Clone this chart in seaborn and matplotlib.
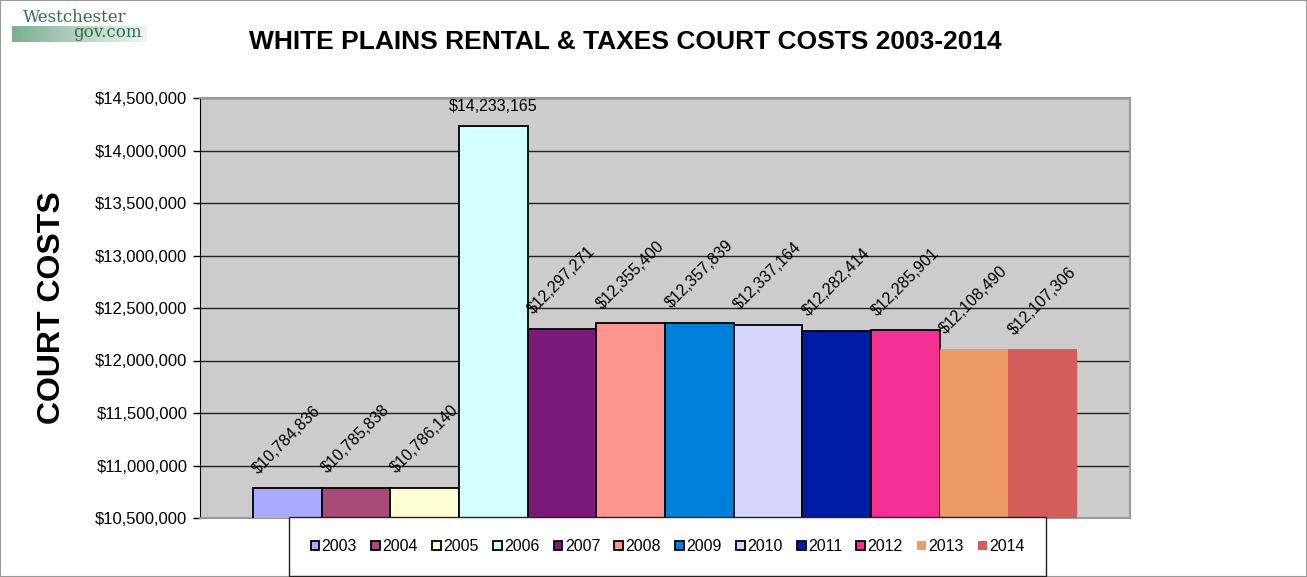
import numpy as np
import matplotlib
matplotlib.use("Agg")
import matplotlib.pyplot as plt
import seaborn as sns
from matplotlib.patches import Patch, Rectangle
from matplotlib.ticker import FuncFormatter, MultipleLocator

years = ['2003', '2004', '2005', '2006', '2007', '2008',
         '2009', '2010', '2011', '2012', '2013', '2014']
costs = [10784836, 10785838, 10786140, 14233165, 12297271, 12355400,
         12357839, 12337164, 12282414, 12285901, 12108490, 12107306]
colors = ['#aaaaff', '#a84b78', '#ffffd4', '#d4ffff', '#7b1a78', '#fe958f',
          '#0080d8', '#d6d6fc', '#001ca4', '#f62f95', '#ee9a66', '#d45c5a']

sns.set_style("white")
plt.rcParams['font.family'] = ['Liberation Sans', 'DejaVu Sans']
plt.rcParams['text.color'] = 'black'
plt.rcParams['axes.labelcolor'] = 'black'
plt.rcParams['ytick.color'] = 'black'

fig = plt.figure(figsize=(13.07, 5.77), dpi=100)
ax = fig.add_axes([200 / 1307, 1 - 518 / 577, 930 / 1307, 420 / 577])
ax.set_facecolor('#cccccc')

sns.barplot(x=years, y=costs, hue=years, palette=colors, width=1.0,
            saturation=1, legend=False, ax=ax, zorder=3)

# bars up to 2012 have black outlines, the last two do not
for i, bar in enumerate(ax.patches):
    if i < 10:
        bar.set_edgecolor('black')
        bar.set_linewidth(1.3)
    else:
        bar.set_edgecolor('none')

ax.set_ylim(10500000, 14500000)
ax.set_xlim(-1.27, 12.27)
ax.yaxis.set_major_locator(MultipleLocator(500000))
ax.yaxis.set_major_formatter(FuncFormatter(lambda v, p: f"${v:,.0f}"))
ax.yaxis.grid(True, color='#222222', linewidth=1)
ax.set_axisbelow(True)
ax.tick_params(axis='y', left=True, direction='out', length=5, width=1,
               color='black', labelsize=12, pad=4)
ax.set_xticks([])
ax.set_xlabel('')
ax.set_ylabel('COURT COSTS', fontsize=23, fontweight='bold', labelpad=20)
for side in ['top', 'right', 'bottom']:
    ax.spines[side].set_color('#999999')
    ax.spines[side].set_linewidth(1.5)
ax.spines['left'].set_color('black')

# value labels
for i, v in enumerate(costs):
    if years[i] == '2006':
        ax.annotate(f"${v:,}", xy=(i, v), xytext=(0, 14), textcoords='offset points',
                    ha='center', va='center', fontsize=11.5)
    else:
        ax.annotate(f"${v:,}", xy=(i, v), xytext=(0, 35), textcoords='offset points',
                    ha='center', va='center', fontsize=11.5, rotation=45,
                    rotation_mode='anchor')

fig.text(625 / 1307, 1 - 42 / 577, 'WHITE PLAINS RENTAL & TAXES COURT COSTS 2003-2014',
         ha='center', va='center', fontsize=19, fontweight='bold')

handles = [Patch(facecolor=c, edgecolor='black' if i < 10 else 'none', linewidth=1.3)
           for i, c in enumerate(colors)]
leg = fig.legend(handles, years, ncol=12, loc='center',
                 bbox_to_anchor=(289 / 1307, 2 / 577, 757 / 1307, 57 / 577),
                 mode='expand', borderaxespad=0, fontsize=11.5,
                 handlelength=0.55, handleheight=0.55, handletextpad=0.15,
                 borderpad=1.35, fancybox=False, framealpha=1)
leg.get_frame().set_edgecolor('#222222')
leg.get_frame().set_linewidth(1)

# logo in the corner
logo = fig.add_axes([12 / 1307, 1 - 42 / 577, 135 / 1307, 32 / 577])
grad = np.linspace(0, 1, 200)[None, :]
logo.imshow(grad, cmap=sns.light_palette('#5a9a78', reverse=True, as_cmap=True),
            aspect='auto', extent=(0, 1, 0, 0.5), alpha=0.8)
logo.set_xlim(0, 1)
logo.set_ylim(0, 1)
logo.axis('off')
logo.text(0.08, 0.78, 'Westchester', family='DejaVu Serif', fontsize=12,
          color='#2f6e55', va='center')
logo.text(0.45, 0.3, 'gov.com', family='DejaVu Serif', fontsize=12,
          color='#2f6e55', va='center')

fig.patches.append(Rectangle((0, 0), 1, 1, transform=fig.transFigure, fill=False,
                             edgecolor='#999999', linewidth=1.5))

fig.savefig('out.png', dpi=100)
